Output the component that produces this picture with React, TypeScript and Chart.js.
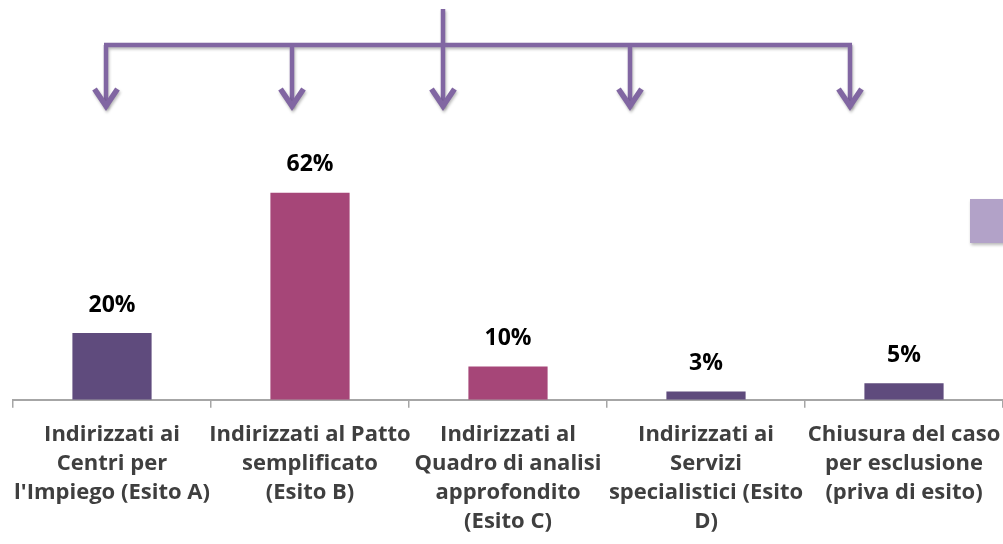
import React, { useEffect, useRef } from "react";
import { Chart, registerables } from "chart.js";

Chart.register(...registerables);

// ---- data ----
const categories: string[][] = [
  ["Indirizzati ai", "Centri per", "l'Impiego (Esito A)"],
  ["Indirizzati al Patto", "semplificato", "(Esito B)"],
  ["Indirizzati al", "Quadro di analisi", "approfondito", "(Esito C)"],
  ["Indirizzati ai", "Servizi", "specialistici (Esito", "D)"],
  ["Chiusura del caso", "per esclusione", "(priva di esito)"],
];
const shares: number[] = [20, 62, 10, 2.5, 5];
const barColors: string[] = ["#5f4b7d", "#a64678", "#a64678", "#5f4b7d", "#5f4b7d"];

// ---- decoration (slide graphics above the chart) ----
const arrowColor = "#8166a2";
const arrowXs = [106, 292, 443, 630, 850];
const stemX = 443;
const stemTop = 9;
const bracketY = 45;
const tipY = 111;

const FONT = "'Open Sans', sans-serif";

const decorPlugin = {
  id: "decor",
  afterDatasetsDraw(chart: any) {
    const ctx = chart.ctx as CanvasRenderingContext2D;
    const meta = chart.getDatasetMeta(0);
    ctx.save();
    ctx.font = `bold 23px ${FONT}`;
    ctx.fillStyle = "#000000";
    ctx.textAlign = "center";
    ctx.textBaseline = "middle";
    meta.data.forEach((bar: any, i: number) => {
      const v = shares[i];
      ctx.fillText(`${Math.round(v)}%`, bar.x, bar.y - 28);
    });
    ctx.restore();
  },
  afterDraw(chart: any) {
    const ctx = chart.ctx as CanvasRenderingContext2D;
    ctx.save();
    ctx.shadowColor = "rgba(0,0,0,0.28)";
    ctx.shadowBlur = 3;
    ctx.shadowOffsetX = 1;
    ctx.shadowOffsetY = 2;

    ctx.strokeStyle = arrowColor;
    ctx.lineWidth = 4.5;
    ctx.lineCap = "butt";
    ctx.lineJoin = "miter";
    ctx.beginPath();
    ctx.moveTo(arrowXs[0] - 2, bracketY);
    ctx.lineTo(arrowXs[arrowXs.length - 1] + 2, bracketY);
    ctx.moveTo(stemX, stemTop);
    ctx.lineTo(stemX, bracketY);
    arrowXs.forEach((x) => {
      ctx.moveTo(x, bracketY);
      ctx.lineTo(x, tipY - 4);
    });
    ctx.stroke();

    ctx.lineWidth = 5.5;
    ctx.beginPath();
    arrowXs.forEach((x) => {
      ctx.moveTo(x - 11.5, tipY - 22);
      ctx.lineTo(x, tipY - 5);
      ctx.lineTo(x + 11.5, tipY - 22);
    });
    ctx.stroke();

    // partially visible light box at right edge
    ctx.fillStyle = "#b2a2c8";
    ctx.fillRect(970, 199, 40, 44);
    ctx.restore();
  },
};

export default function App() {
  const ref = useRef<HTMLCanvasElement | null>(null);
  useEffect(() => {
    if (!ref.current) return;
    const chart = new Chart(ref.current, {
      type: "bar",
      data: {
        labels: categories,
        datasets: [
          {
            data: shares,
            backgroundColor: barColors,
            borderWidth: 0,
            categoryPercentage: 1,
            barPercentage: 0.4,
          },
        ],
      },
      options: {
        animation: false,
        responsive: false,
        layout: { padding: { left: 13, right: 0, top: 66, bottom: -4 } },
        plugins: { legend: { display: false }, tooltip: { enabled: false } },
        scales: {
          x: {
            offset: true,
            afterFit: (scale: any) => {
              scale.paddingLeft = 0;
              scale.paddingRight = 0;
            },
            grid: {
              offset: true,
              drawOnChartArea: false,
              drawTicks: true,
              tickLength: 8,
              color: "#a6a6a6",
              lineWidth: 1.5,
            },
            border: { display: true, color: "#a6a6a6", width: 2 },
            ticks: {
              autoSkip: false,
              maxRotation: 0,
              minRotation: 0,
              padding: 12,
              color: "#3f3f3f",
              font: { family: FONT, size: 22, weight: "bold", lineHeight: 1.32 },
            },
          },
          y: {
            display: false,
            min: 0,
            max: 100,
          },
        },
      },
      plugins: [decorPlugin],
    });
    return () => chart.destroy();
  }, []);
  return (
    <div style={{ position: "absolute", left: 0, top: 0, width: 1003, height: 544, background: "#fff" }}>
      <canvas ref={ref} width={1003} height={544} style={{ display: "block" }} />
    </div>
  );
}
